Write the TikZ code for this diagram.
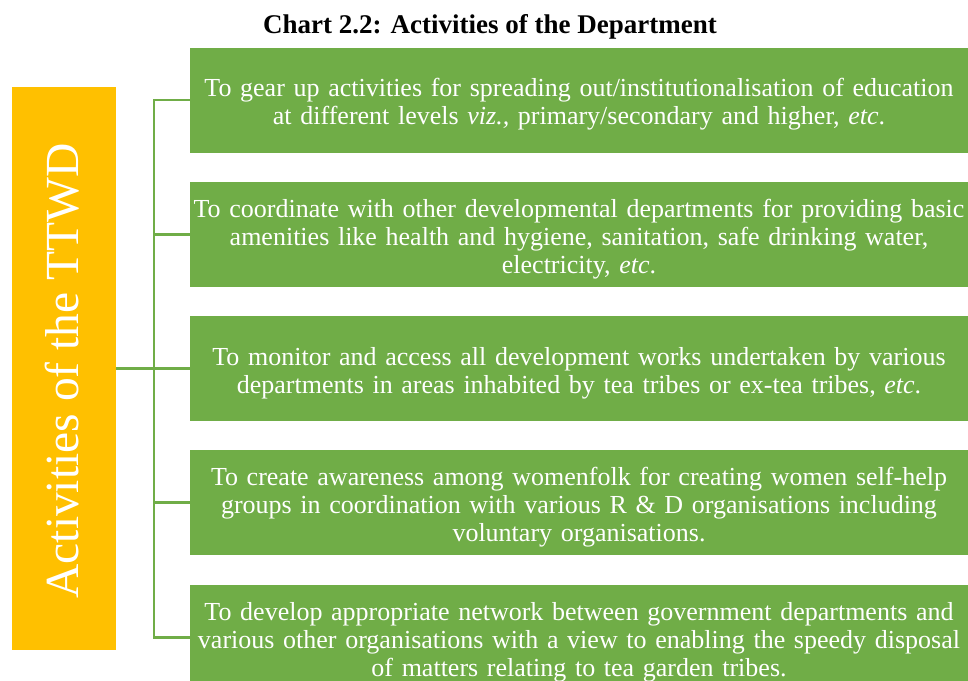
\documentclass[tikz,border=0pt]{standalone}
\usepackage{fontspec}
\setmainfont{Liberation Serif}
\definecolor{leafgreen}{HTML}{70AD47}
\definecolor{amber}{HTML}{FFC000}
\tikzset{
  rootbox/.style={fill=amber, draw=none, minimum width=104pt, minimum height=563pt, inner sep=0pt},
  itembox/.style={fill=leafgreen, draw=none, minimum width=778pt, minimum height=105pt,
    text width=778pt, align=center, inner sep=0pt, text=white,
    font=\fontsize{26}{28}\selectfont,
    % a tall strut on the first line lowers the text block a little
    execute at begin node={\rule{0pt}{27pt}}},
  conn/.style={draw=leafgreen, line width=2.2pt},
}
\begin{document}
\begin{tikzpicture}[x=1pt,y=-1pt]
\clip (0,0) rectangle (968,680);
\fill[white] (0,0) rectangle (968,680);

\node[font=\bfseries\fontsize{27}{30}\selectfont] (title) at (490,27) {Chart 2.2: Activities of the Department};

\node[rootbox] (root) at (64,368.5) {};
\node[rotate=90, text=white, font=\fontsize{47.5}{52}\selectfont] (rootlabel) at (62,371) {Activities of the TTWD};

\node[itembox] (b1) at (579,100) {To gear up activities for spreading out/institutionalisation of education\\ at different levels \textit{viz.,} primary/secondary and higher, \textit{etc}.};
\node[itembox] (b2) at (579,234.5) {To coordinate with other developmental departments for providing basic\\ amenities like health and hygiene, sanitation, safe drinking water,\\ electricity, \textit{etc}.};
\node[itembox] (b3) at (579,368.5) {To monitor and access all development works undertaken by various\\ departments in areas inhabited by tea tribes or ex-tea tribes, \textit{etc}.};
\node[itembox] (b4) at (579,502.5) {To create awareness among womenfolk for creating women self-help\\ groups in coordination with various R \& D organisations including\\ voluntary organisations.};
\node[itembox] (b5) at (579,637.5) {To develop appropriate network between government departments and\\ various other organisations with a view to enabling the speedy disposal\\ of matters relating to tea garden tribes.};

\draw[conn] (root.east) -- (b3.west);
\draw[conn] (b1.west) -- ++(-36,0) |- (b5.west);
\draw[conn] (b2.west) -- ++(-36,0);
\draw[conn] (b4.west) -- ++(-36,0);
\end{tikzpicture}
\end{document}
